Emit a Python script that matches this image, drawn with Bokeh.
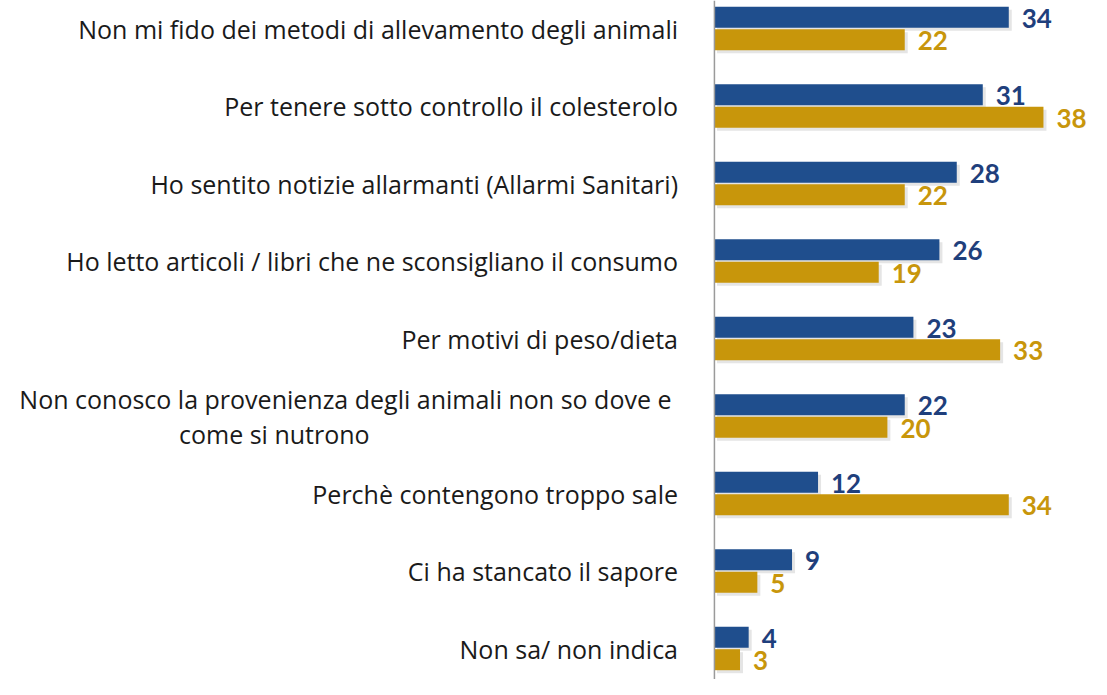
from bokeh.plotting import figure
from bokeh.models import Range1d, ColumnDataSource, Span
from bokeh.core.properties import value
from bokeh.embed import file_html
from bokeh.resources import INLINE

categories = [
    "Non mi fido dei metodi di allevamento degli animali",
    "Per tenere sotto controllo il colesterolo",
    "Ho sentito notizie allarmanti (Allarmi Sanitari)",
    "Ho letto articoli / libri che ne sconsigliano il consumo",
    "Per motivi di peso/dieta",
    "Non conosco la provenienza degli animali  non so dove e",
    "Perchè contengono troppo sale",
    "Ci ha stancato il sapore",
    "Non sa/ non indica",
]
category_line2 = ["", "", "", "", "", "come si nutrono", "", "", ""]
series_blue = [34, 31, 28, 26, 23, 22, 12, 9, 4]
series_gold = [22, 38, 22, 19, 33, 20, 34, 5, 3]

BLUE = "#1F4E8D"
GOLD = "#C8960B"
BLUE_TXT = "#1F3F7C"
GOLD_TXT = "#C8960B"

W, H = 1091, 679
px_per_unit_x = 8.67
frame_left = 713.5
x0 = -frame_left / px_per_unit_x
x1 = (W - frame_left) / px_per_unit_x

first_c, last_c = 28.0, 648.0
spacing = (last_c - first_c) / 8
top_off = first_c / spacing
y_start = (H - first_c) / spacing

p = figure(width=W, height=H, output_backend="svg", toolbar_location=None,
           x_range=Range1d(x0, x1), y_range=Range1d(y_start, -top_off),
           min_border=0, min_border_left=0, min_border_right=0,
           min_border_top=0, min_border_bottom=0)
p.axis.visible = False
p.grid.visible = False
p.outline_line_color = None
p.background_fill_color = "white"

n = len(categories)
idx = list(range(n))
dy = 11.2 / spacing
bh = 21.0 / spacing
yb = [i - dy for i in idx]
yg = [i + dy for i in idx]

two = [bool(c) for c in category_line2]
src = ColumnDataSource(dict(yb=yb, yg=yg, blue=series_blue, gold=series_gold,
                            blue_s=[str(v) for v in series_blue],
                            gold_s=[str(v) for v in series_gold],
                            cat=categories, cat2=category_line2,
                            ycat1=[i - (17.5 / spacing if t else 0) for i, t in zip(idx, two)],
                            ycat2=[i + 17.5 / spacing for i in idx],
                            zero=[0] * n))

# soft drop shadows
sx = 3 / px_per_unit_x
sy = 3 / spacing
shadow = dict(left=sx, height=bh, fill_color="#888888", fill_alpha=0.22, line_color=None)
p.hbar(y=[v + sy for v in yb], right=[v + sx for v in series_blue], **shadow)
p.hbar(y=[v + sy for v in yg], right=[v + sx for v in series_gold], **shadow)

p.hbar(y="yb", left=0, right="blue", height=bh, source=src, fill_color=BLUE, line_color=None)
p.hbar(y="yg", left=0, right="gold", height=bh, source=src, fill_color=GOLD, line_color=None)

p.add_layout(Span(location=0.05, dimension="height", line_color="#9a9a9a", line_width=1.5))

vfont = value("Lato")
p.text(x="blue", y="yb", text="blue_s", source=src, x_offset=13, y_offset=1,
       text_font=vfont, text_font_style="bold", text_font_size="26px",
       text_color=BLUE_TXT, text_baseline="middle", text_align="left")
p.text(x="gold", y="yg", text="gold_s", source=src, x_offset=13, y_offset=1,
       text_font=vfont, text_font_style="bold", text_font_size="26px",
       text_color=GOLD_TXT, text_baseline="middle", text_align="left")

lfont = value("Open Sans")
p.text(x="zero", y="ycat1", text="cat", source=src, x_offset=-36,
       text_font=lfont, text_font_size="25px", text_color="#1a1a1a",
       text_baseline="middle", text_align="right")
p.text(x="zero", y="ycat2", text="cat2", source=src, x_offset=-535,
       text_font=lfont, text_font_size="25px", text_color="#1a1a1a",
       text_baseline="middle", text_align="left")

open("out.html", "w").write(file_html(p, INLINE))
